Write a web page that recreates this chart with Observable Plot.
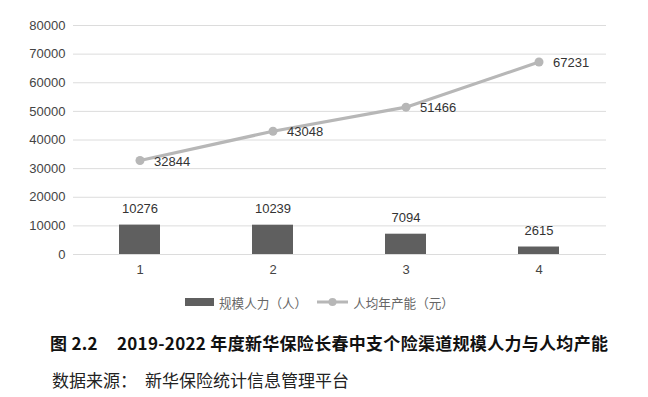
<!DOCTYPE html>
<html>
<head>
<meta charset="utf-8">
<script src="https://cdn.jsdelivr.net/npm/d3@7"></script>
<script src="https://cdn.jsdelivr.net/npm/@observablehq/plot@0.6"></script>
<style>
  html, body { margin: 0; padding: 0; background: #fff; }
  body { width: 648px; height: 397px; overflow: hidden; font-family: "Liberation Sans", "Noto Sans CJK SC", sans-serif; }
  #chart { height: 282px; }
  #legend { height: 40px; display: flex; align-items: center; justify-content: flex-start; padding-left: 185px; font-family: "Noto Sans CJK SC", sans-serif; font-size: 12.6px; color: #666; }
  .item { display: flex; align-items: center; gap: 5px; }
  #caption { margin: 10px 0 0 50px; line-height: 22px; font-family: "Noto Sans CJK SC", sans-serif; font-weight: 700; font-size: 17px; letter-spacing: 0.3px; color: #111; white-space: nowrap; }
  #source { margin: 14px 0 0 52px; line-height: 24px; font-family: "Noto Sans CJK SC", sans-serif; font-weight: 400; font-size: 17px; color: #222; white-space: nowrap; }
</style>
</head>
<body>
<div id="chart"></div>
<div id="legend"></div>
<div id="caption">图 2.2<span style="display:inline-block;width:19px"></span>2019-2022 年度新华保险长春中支个险渠道规模人力与人均产能</div>
<div id="source">数据来源：<span style="display:inline-block;width:8px"></span>新华保险统计信息管理平台</div>
<script>
const categories = ["1", "2", "3", "4"];
const staff = [10276, 10239, 7094, 2615];
const productivity = [32844, 43048, 51466, 67231];
const yTicks = [0, 10000, 20000, 30000, 40000, 50000, 60000, 70000, 80000];
const seriesNames = ["规模人力（人）", "人均年产能（元）"];

const barData = categories.map((c, i) => ({cat: c, value: staff[i]}));
const lineData = categories.map((c, i) => ({cat: c, value: productivity[i]}));

const barColor = "#5f5f5f";
const lineColor = "#b7b7b7";

const chart = Plot.plot({
  width: 648,
  height: 282,
  marginTop: 25,
  marginBottom: 28,
  marginLeft: 73,
  marginRight: 42,
  style: {fontFamily: "Liberation Sans, Arial, sans-serif", fontSize: "13px", color: "#444"},
  x: {type: "band", domain: categories, paddingInner: 0.69, paddingOuter: 0.345, label: null},
  y: {domain: [0, 80000], label: null},
  marks: [
    Plot.gridY(yTicks, {stroke: "#dcdcdc", strokeOpacity: 1, strokeWidth: 1}),
    Plot.axisY(yTicks, {tickSize: 0, tickPadding: 8, tickFormat: d => String(d), fontSize: 13, fill: "#444", label: null}),
    Plot.axisX({tickSize: 0, tickPadding: 10, fontSize: 13, fill: "#444", label: null}),
    Plot.barY(barData, {x: "cat", y: "value", fill: barColor}),
    Plot.text(barData, {x: "cat", y: "value", text: d => String(d.value), dy: -16, fontSize: 13, fill: "#333"}),
    Plot.line(lineData, {x: "cat", y: "value", stroke: lineColor, strokeWidth: 3.2}),
    Plot.dot(lineData, {x: "cat", y: "value", r: 4.5, fill: lineColor, stroke: "none"}),
    Plot.text(lineData, {x: "cat", y: "value", text: d => String(d.value), dx: 14, dy: 1, textAnchor: "start", fontSize: 13, fill: "#333"})
  ]
});
document.getElementById("chart").appendChild(chart);

const legend = document.getElementById("legend");
legend.innerHTML =
  `<span class="item"><svg width="29" height="10"><rect x="0" y="1" width="29" height="8" fill="${barColor}"/></svg><span>${seriesNames[0]}</span></span>` +
  `<span class="item" style="margin-left:10px"><svg width="31" height="10"><line x1="0" y1="5" x2="31" y2="5" stroke="${lineColor}" stroke-width="3"/><circle cx="15.5" cy="5" r="4" fill="${lineColor}"/></svg><span>${seriesNames[1]}</span></span>`;
</script>
</body>
</html>
